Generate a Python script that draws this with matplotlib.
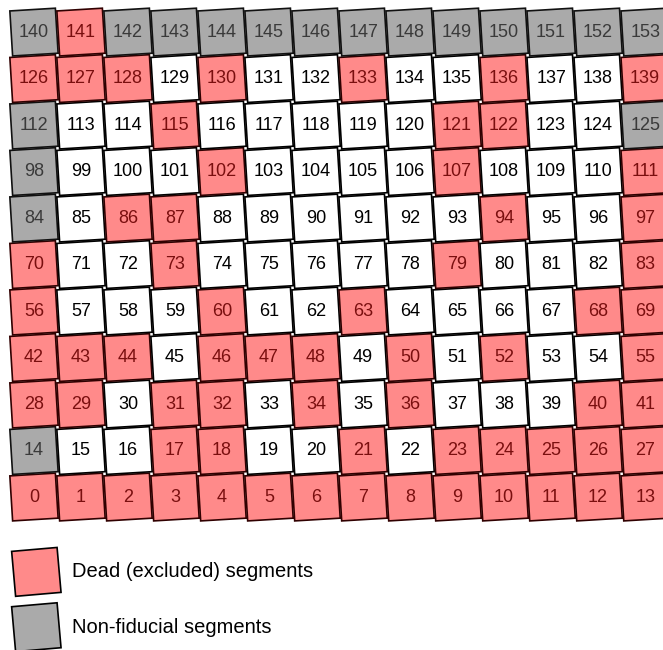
import matplotlib
matplotlib.use("Agg")
import matplotlib.pyplot as plt
from matplotlib.patches import Rectangle

plt.rcParams['font.family'] = ['Liberation Sans', 'DejaVu Sans']

# segment layout: 14 columns x 11 rows, numbered from bottom-left
n_cols = 14
n_rows = 11

dead = [0, 1, 2, 3, 4, 5, 6, 7, 8, 9, 10, 11, 12, 13,
        17, 18, 21, 23, 24, 25, 26, 27,
        28, 29, 31, 32, 34, 36, 40, 41,
        42, 43, 44, 46, 47, 48, 50, 52, 55,
        56, 60, 63, 68, 69,
        70, 73, 79, 83,
        86, 87, 94, 97,
        102, 107, 111,
        115, 121, 122,
        126, 127, 128, 130, 133, 136, 139,
        141]
non_fiducial = [14, 84, 98, 112, 125,
                140, 142, 143, 144, 145, 146, 147, 148, 149, 150, 151, 152, 153]

legend_labels = ["Dead (excluded) segments", "Non-fiducial segments"]

RED = "#ff8a8a"
GRAY = "#aaaaaa"
TILT = 3.5
SIZE = 0.97

fig = plt.figure(figsize=(6.63, 6.5), dpi=100)
ax = fig.add_axes([0, 0, 1, 1])
ax.set_xlim(-0.723, 13.38)
ax.set_ylim(-3.29, 10.69)
ax.axis("off")


def tile(x, y, face, edge, angle=TILT):
    r = Rectangle((x - SIZE / 2, y - SIZE / 2), SIZE, SIZE, angle=angle,
                  rotation_point='center', facecolor=face, edgecolor=edge,
                  linewidth=1.2)
    ax.add_patch(r)


for seg in range(n_cols * n_rows):
    row, col = divmod(seg, n_cols)
    if seg in dead:
        face, edge, tc = RED, "#300000", "#7a0f0f"
    elif seg in non_fiducial:
        face, edge, tc = GRAY, "#111111", "#3a3a3a"
    else:
        face, edge, tc = "white", "black", "black"
    tile(col, row, face, edge)
    ax.text(col, row, str(seg), ha='center', va='center', fontsize=13, color=tc)

# legend
for k, (lab, face) in enumerate(zip(legend_labels, [RED, GRAY])):
    y = -1.61 - 1.19 * k
    tile(0.05, y, face, "black", angle=5)
    ax.text(0.81, y, lab, ha='left', va='center', fontsize=14.5, color='black')

fig.savefig("out.png", dpi=100)
